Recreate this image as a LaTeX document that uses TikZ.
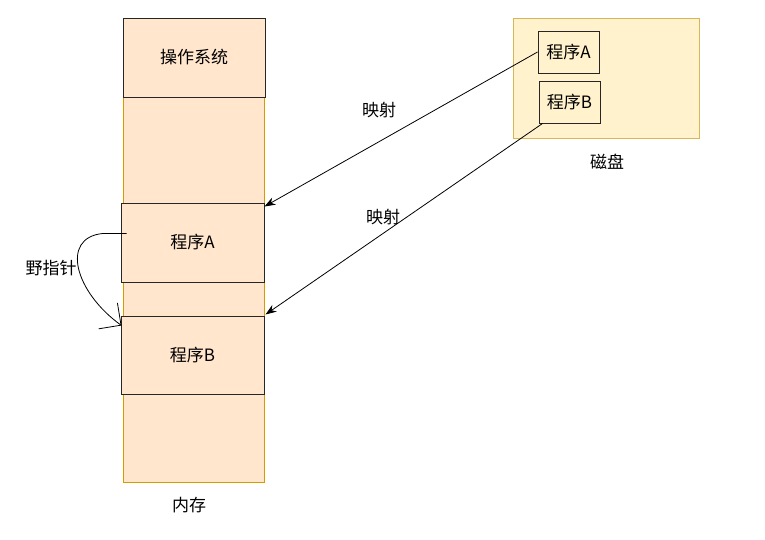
\documentclass[tikz,border=0pt]{standalone}
\usepackage{fontspec}
\setmainfont{Noto Sans CJK SC}
\usepackage{tikz}
\usepackage{xcolor}
\usetikzlibrary{arrows.meta,positioning,calc}
\definecolor{memfill}{HTML}{FFE6CC}
\definecolor{memline}{HTML}{D79B00}
\definecolor{diskfill}{HTML}{FFF2CC}
\definecolor{diskline}{HTML}{D6B656}
\tikzset{
    area/.style={rectangle, inner sep=0pt, line width=1pt},
    block/.style={rectangle, draw=black!85, fill=memfill, line width=1pt, inner sep=0pt, align=center},
    label/.style={inner sep=0pt},
    arrow/.style={-{Stealth[length=11pt,width=8pt]}, line width=0.8pt},
    wild/.style={-{Straight Barb[length=16pt,width=32pt]}, line width=0.8pt}
}

\begin{document}
\begin{tikzpicture}[x=1pt, y=-1pt, font=\fontsize{17}{20}\selectfont]
\useasboundingbox (0,0) rectangle (765,539);

% Memory column
\node[area, draw=memline, fill=memfill, minimum width=141pt, minimum height=464pt] (mem) at (193.5,250) {};
\node[block, minimum width=142pt, minimum height=79pt] (os) at (194,57.5) {操作系统};
\node[block, minimum width=143pt, minimum height=79pt] (memA) at (192.5,242.5) {程序A};
\node[block, minimum width=143pt, minimum height=78pt] (memB) at (192.5,355) {程序B};
\node[label] (memlabel) at (189,505) {内存};

% Disk
\node[area, draw=diskline, fill=diskfill, minimum width=186pt, minimum height=120pt] (disk) at (606,78) {};
\node[block, fill=diskfill, minimum width=61pt, minimum height=42pt] (diskA) at (568.5,52) {程序A};
\node[block, fill=diskfill, minimum width=61pt, minimum height=42pt] (diskB) at (569.5,102) {程序B};
\node[label] (disklabel) at (607,162) {磁盘};

% Mapping from disk into memory
\draw[arrow] (diskA.west) -- ([yshift=-4pt]memA.north east);
\node[label] (map1) at (379,110) {映射};
\draw[arrow] ([xshift=4pt]diskB.south west) -- ([xshift=1pt,yshift=1pt]memB.north east);
\node[label] (map2) at (383,217) {映射};

% Wild pointer
\coordinate (wildstart) at ($(memA.west)+(6,-9)$);
\draw[wild] (wildstart) -- ++(-24,0) .. controls (60,238) and (75,292) .. ([xshift=1pt,yshift=-10pt]memB.north west);
\node[label] (wildlabel) at (51,268) {野指针};

\end{tikzpicture}
\end{document}
